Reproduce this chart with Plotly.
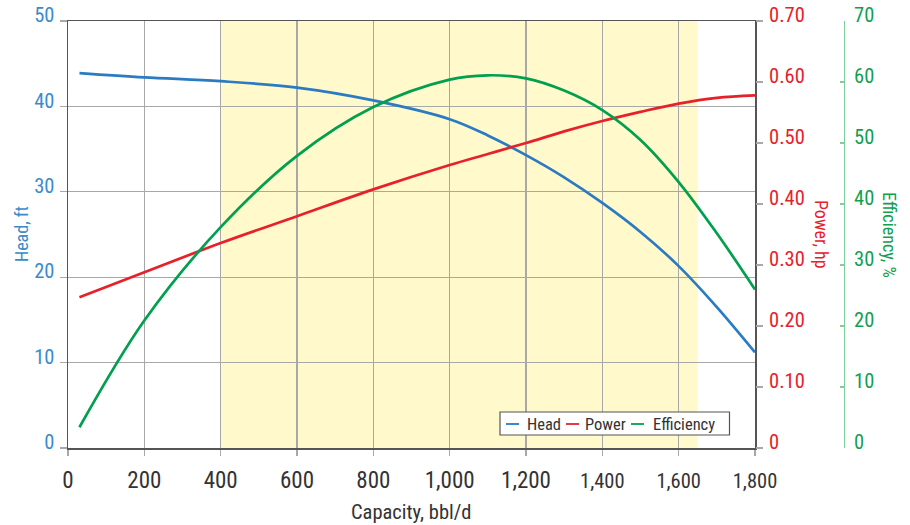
import plotly.graph_objects as go

# ---- data ----
capacity = [30, 200, 400, 600, 800, 1000, 1100, 1200, 1300, 1400, 1500, 1600, 1700, 1800]
head_ft = [43.9, 43.4, 42.95, 42.2, 40.7, 38.5, 36.6, 34.3, 31.7, 28.7, 25.3, 21.3, 16.5, 11.2]
power_hp = [0.247, 0.288, 0.336, 0.380, 0.424, 0.464, 0.482, 0.500, 0.519, 0.536, 0.551, 0.5646, 0.574, 0.578]
efficiency_pct = [3.4, 20.9, 36.2, 47.9, 55.9, 60.4, 61.1, 60.6, 58.6, 55.4, 50.5, 43.6, 35.2, 26.0]

x_ticks = [0, 200, 400, 600, 800, 1000, 1200, 1400, 1600, 1800]
x_labels = ["0", "200", "400", "600", "800", "1,000", "1,200", "1,400", "1,600", "1,800"]
head_ticks = [0, 10, 20, 30, 40, 50]
power_ticks = [0, 0.1, 0.2, 0.3, 0.4, 0.5, 0.6, 0.7]
power_labels = ["0", "0.10", "0.20", "0.30", "0.40", "0.50", "0.60", "0.70"]
eff_ticks = [0, 10, 20, 30, 40, 50, 60, 70]
band = [400, 1650]

series_names = ["Head", "Power", "Efficiency"]

# ---- styling ----
W, H = 910, 525
ML, MR, MT, MB = 68, 20, 21, 77
PW = W - ML - MR
PH = H - MT - MB
FONT = "Liberation Sans Narrow, Arial Narrow, Roboto Condensed, sans-serif"
BLUE, RED, GREEN = "#2b7bc2", "#e8202a", "#00a04e"
BLUE_T, RED_T, GREEN_T = "#3a8bcb", "#e8202a", "#10a050"
GRID = "#a8a8a8"
FRAME = "#555555"
YTICK = 20.5


def px(xs):
    """screen x pixel -> paper"""
    return (xs - ML) / PW


def py(ys):
    """screen y pixel -> paper"""
    return (H - MB - ys) / PH


x_dom_end = px(755)
# the last three capacity labels are printed a little smaller in the original
x_text = [lab if v < 1400 else f'<span style="font-size:20.5px">{lab}</span>'
          for v, lab in zip(x_ticks, x_labels)]

fig = go.Figure()
fig.add_trace(go.Scatter(x=capacity, y=head_ft, name=series_names[0], mode="lines",
                         line=dict(color=BLUE, width=2.7, shape="spline"), yaxis="y"))
fig.add_trace(go.Scatter(x=capacity, y=power_hp, name=series_names[1], mode="lines",
                         line=dict(color=RED, width=2.7, shape="spline"), yaxis="y2"))
fig.add_trace(go.Scatter(x=capacity, y=efficiency_pct, name=series_names[2], mode="lines",
                         line=dict(color=GREEN, width=2.7, shape="spline"), yaxis="y3"))

fig.add_shape(type="rect", xref="x", yref="y domain", x0=band[0], x1=band[1], y0=0, y1=1,
              fillcolor="#fff9cc", line_width=0, layer="below")

fig.update_layout(
    width=W, height=H, autosize=False,
    margin=dict(l=ML, r=MR, t=MT, b=MB, autoexpand=False),
    paper_bgcolor="white", plot_bgcolor="white",
    showlegend=False,
    font=dict(family=FONT, size=19, color="#333333"),
    xaxis=dict(domain=[0, x_dom_end], range=[0, 1800], tickvals=x_ticks, ticktext=x_text,
               showgrid=True, gridcolor=GRID, gridwidth=1.3, automargin=False,
               ticks="outside", ticklen=6, tickcolor=GRID, tickwidth=1.3,
               showline=True, linecolor=FRAME, linewidth=1.5, mirror=True,
               zeroline=False, tickfont=dict(size=23, color="#333333"),
               ticklabelstandoff=5),
    yaxis=dict(range=[0, 50], tickvals=head_ticks, showgrid=True, gridcolor=GRID, gridwidth=1.3,
               ticks="outside", ticklen=7, tickcolor=GRID, tickwidth=1.3, automargin=False,
               showline=True, linecolor=FRAME, linewidth=1.5, mirror=True,
               zeroline=False, tickfont=dict(size=YTICK, color=BLUE_T),
               ticklabelshift=-6, ticklabelstandoff=1, ticklabeloverflow="allow"),
    yaxis2=dict(range=[0, 0.7], tickvals=power_ticks, ticktext=power_labels,
                overlaying="y", side="right", anchor="x", showgrid=False, zeroline=False,
                ticks="outside", ticklen=7, tickcolor=GRID, tickwidth=1.3, automargin=False,
                showline=False, tickfont=dict(size=YTICK, color=RED_T),
                ticklabelshift=-6, ticklabelstandoff=2, ticklabeloverflow="allow"),
    yaxis3=dict(range=[0, 70], tickvals=eff_ticks, overlaying="y", side="right",
                anchor="free", position=px(843.5), showgrid=False, zeroline=False,
                ticks="inside", ticklen=4, tickcolor="#7fcf9a", tickwidth=1.2, automargin=False,
                showline=True, linecolor="#7fcf9a", linewidth=1.5,
                tickfont=dict(size=YTICK, color=GREEN_T),
                ticklabelshift=-6, ticklabelstandoff=5, ticklabeloverflow="allow"),
)

# axis titles
ann = [
    dict(text="Head, ft", x=px(21), y=py(234), textangle=-90, font=dict(size=18, color=BLUE_T)),
    dict(text="Power, hp", x=px(822), y=py(234), textangle=90, font=dict(size=18, color=RED_T)),
    dict(text="Efficiency, %", x=px(890), y=py(235), textangle=90, font=dict(size=18, color=GREEN_T)),
    dict(text="Capacity, bbl/d", x=px(411.5), y=py(512), textangle=0, font=dict(size=20.5, color="#333333")),
]
for a in ann:
    fig.add_annotation(xref="paper", yref="paper", showarrow=False, xanchor="center",
                       yanchor="middle", **a)

# manual legend
fig.add_shape(type="rect", xref="paper", yref="paper", x0=px(500), x1=px(729.5),
              y0=py(435), y1=py(412), fillcolor="white", line=dict(color=FRAME, width=1.2))
leg_items = [(506, 525, BLUE), (566, 583, RED), (631, 651, GREEN)]
for (lx, tx, col), name in zip(leg_items, series_names):
    fig.add_shape(type="line", xref="paper", yref="paper", x0=px(lx), x1=px(lx + 13),
                  y0=py(424), y1=py(424), line=dict(color=col, width=1.8))
    fig.add_annotation(xref="paper", yref="paper", x=px(tx), y=py(424), text=name,
                       showarrow=False, xanchor="left", yanchor="middle",
                       font=dict(size=16.5, color="#333333"))

fig.write_html("out.html",
               config={"displayModeBar": False, "staticPlot": True},
               post_script="document.body.style.margin='0';document.body.style.overflow='hidden';")
